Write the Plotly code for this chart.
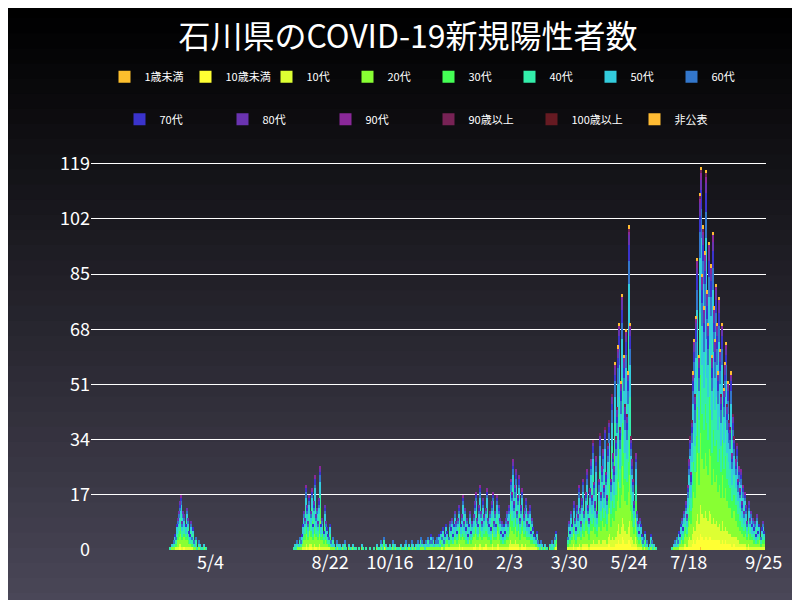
import numpy as np
import pandas as pd
import plotly.graph_objects as go

# daily totals per wave (start date, daily new cases)
wave1_start = "2020-03-28"
wave1 = [1, 0, 2, 3, 5, 4, 8, 10, 12, 15, 17, 9, 12, 11, 8, 13, 10, 6, 5, 9, 4, 7, 3, 2, 4, 1, 3, 2, 1, 0, 1, 2, 0, 1, 0]
wave2_start = "2020-07-20"
wave2 = [1, 2, 1, 3, 2, 4, 3, 5, 8, 12, 10, 20, 14, 9, 17, 12, 19, 8, 15, 23, 11, 13, 9, 16, 26, 8, 10, 6, 14, 9,
         7, 5, 4, 8, 3, 2, 4, 2, 1, 3, 2, 1, 2, 1, 0]
fall_start = "2020-09-03"
fall = [2, 1, 3, 1, 0, 2, 1, 1, 0, 2, 1, 0, 1, 0, 0, 1, 0, 2, 1, 0, 0, 1, 0, 0, 0, 1, 0, 0, 1, 0, 0, 2, 1, 0, 1, 3,
        2, 1, 4, 2, 1, 0, 1, 2, 1, 0, 3, 1, 2, 0, 1, 1, 0, 2, 1, 0, 1, 2, 3, 1, 0, 2, 1, 3, 2, 1, 0, 2, 1, 3, 1, 2,
        4, 3, 2, 1, 3, 2, 4, 2, 3, 5, 3, 4, 2, 3, 4]
wave3_start = "2020-11-29"
wave3 = [3, 5, 2, 6, 4, 7, 3, 5, 8, 6, 4, 9, 7, 10, 5, 8, 12, 9, 6, 10, 14, 8, 11, 17, 9, 13, 7, 10, 5, 8, 12, 6,
         9, 11, 15, 18, 10, 8, 14, 20, 12, 9, 16, 11, 13, 19, 10, 8, 12, 7, 15, 18, 9, 12, 8, 17, 14, 10, 6, 9]
wave4_start = "2021-01-28"
wave4 = [5, 8, 6, 10, 12, 9, 14, 22, 18, 28, 15, 20, 25, 12, 17, 23, 10, 14, 19, 11, 13, 16, 9, 12, 8, 14, 6, 10,
         7, 5, 4, 6, 3, 2, 1, 3, 2, 1, 0, 2, 1, 1, 0, 2, 1, 3, 1, 2, 4, 6]
wave5_start = "2021-03-29"
wave5 = [4, 9, 6, 12, 8, 15, 10, 7, 14, 11, 20, 13, 9, 16, 22, 12, 18, 25, 14, 10, 19, 28, 17, 34, 21, 15, 29, 12,
         22, 36, 18, 26, 31, 20, 38, 24, 17, 33, 40, 22, 48, 30, 26, 58, 35, 44, 63, 70, 38, 52, 79, 60, 45, 68, 42,
         55, 100, 70, 35, 28, 22, 15, 30, 12, 9, 6, 10, 8, 5, 3, 4, 6, 2, 3, 1, 2, 5, 3, 1, 2, 0, 1]
wave6_start = "2021-07-03"
wave6 = [1, 2, 3, 2, 4, 3, 6, 5, 8, 10, 7, 12, 15, 11, 20, 28, 35, 24, 40, 55, 65, 48, 72, 90, 60, 110, 118, 85, 100,
         75, 92, 117, 80, 70, 95, 88, 60, 98, 75, 65, 82, 70, 55, 78, 62, 48, 70, 50, 58, 64, 45, 52, 40, 38, 55, 30,
         42, 35, 28, 33, 22, 26, 19, 25, 15, 20, 12, 18, 14, 9, 15, 10, 12, 8, 10, 7, 9, 5, 11, 6, 8, 4, 7, 9, 6]

groups = ["1歳未満", "10歳未満", "10代", "20代", "30代", "40代", "50代", "60代",
          "70代", "80代", "90代", "90歳以上", "100歳以上", "非公表"]
shares = [0.005, 0.04, 0.08, 0.2, 0.16, 0.17, 0.15, 0.07, 0.05, 0.03, 0.015, 0.005, 0.0, 0.01]
colors = ["#fdbf2d", "#ffff33", "#ddff33", "#88ff33", "#44ff55", "#33eeaa", "#33ccdd", "#3377cc",
          "#3a33cc", "#6a33b0", "#8a2899", "#772255", "#661a22", "#ffbb33"]
tick_dates = ["2020-05-04", "2020-08-22", "2020-10-16", "2020-12-10", "2021-02-03",
              "2021-03-30", "2021-05-24", "2021-07-18", "2021-09-25"]
tick_labels = ["5/4", "8/22", "10/16", "12/10", "2/3", "3/30", "5/24", "7/18", "9/25"]

parts = []
for start, vals in [(wave1_start, wave1), (wave2_start, wave2), (fall_start, fall), (wave3_start, wave3),
                    (wave4_start, wave4), (wave5_start, wave5), (wave6_start, wave6)]:
    parts.append(pd.Series(vals, index=pd.date_range(start, periods=len(vals))))
total = pd.concat(parts)
total = total[~total.index.duplicated()]

cum = np.round(np.outer(total.values, np.cumsum(shares) / sum(shares)))
counts = np.diff(np.hstack([np.zeros((len(total), 1)), cum]), axis=1)

fig = go.Figure()
for i, g in enumerate(groups):
    fig.add_trace(go.Bar(x=total.index, y=counts[:, i], name=g, marker_color=colors[i],
                         marker_line_width=0, legend="legend" if i < 8 else "legend2"))

# dark vertical gradient background
n = 40
top, bot = np.array([0, 0, 0]), np.array([0x4a, 0x47, 0x58])
for k in range(n):
    c = (top + (bot - top) * k / (n - 1)).astype(int)
    fig.add_shape(type="rect", xref="paper", yref="paper", x0=-1, x1=2,
                  y0=1.4 - (k + 1) * 1.56 / n, y1=1.4 - k * 1.56 / n + 0.01,
                  fillcolor=f"rgb({c[0]},{c[1]},{c[2]})", line_width=0, layer="below")

leg = dict(orientation="h", traceorder="normal", x=0.5, xanchor="center", yanchor="middle",
           font=dict(size=11, color="white"), itemsizing="constant", bgcolor="rgba(0,0,0,0)")

fig.update_layout(
    width=800, height=600, barmode="stack", bargap=0,
    paper_bgcolor="#24232b", plot_bgcolor="rgba(0,0,0,0)",
    font=dict(family="Noto Sans CJK JP", color="white"),
    title=dict(text="石川県のCOVID-19新規陽性者数", x=0.5, y=0.97, yanchor="top", xanchor="center",
               font=dict(size=32, color="white")),
    legend=dict(leg, y=1.22, entrywidth=36),
    legend2=dict(leg, y=1.11, entrywidth=58),
    margin=dict(l=83, r=42, t=154, b=58),
    xaxis=dict(type="date", range=["2020-01-15", "2021-09-27"], tickvals=tick_dates, ticktext=tick_labels,
               showgrid=False, tickfont=dict(size=18), ticks=""),
    yaxis=dict(range=[0, 119.5], tickvals=[0, 17, 34, 51, 68, 85, 102, 119], gridcolor="white",
               gridwidth=1, tickfont=dict(size=18), zeroline=False),
)
fig.write_html("out.html")
